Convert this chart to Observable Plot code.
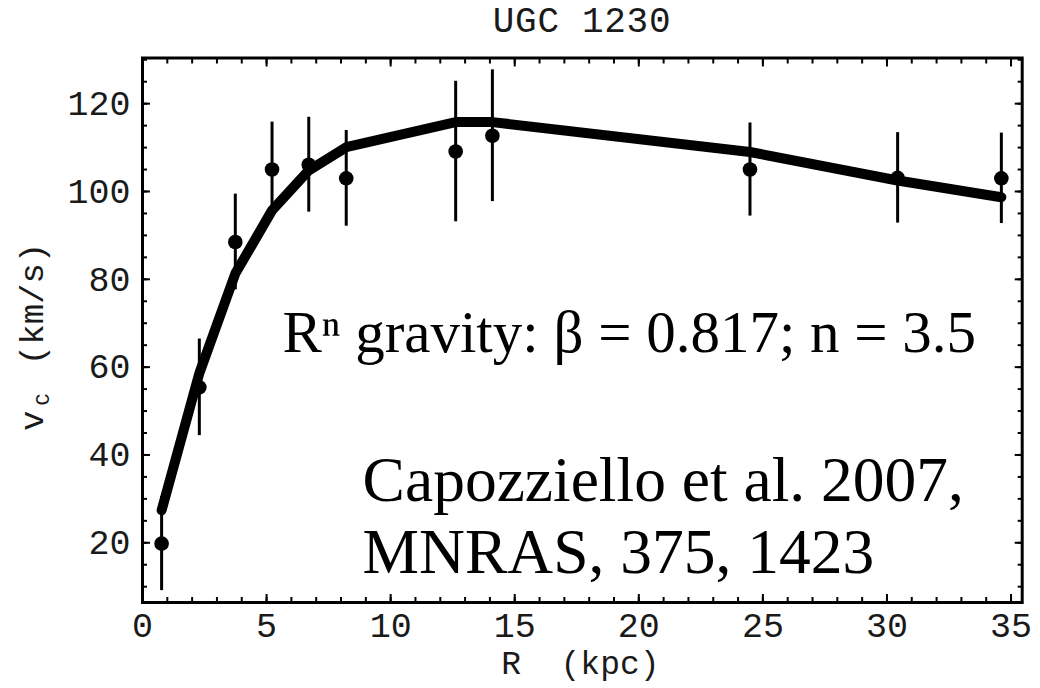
<!DOCTYPE html>
<html><head><meta charset="utf-8">
<script src="https://cdn.jsdelivr.net/npm/d3@7"></script>
<script src="https://cdn.jsdelivr.net/npm/@observablehq/plot@0.6"></script>
<style>
body{margin:0;background:#fff;}
#title{width:1040px;height:46px;line-height:46px;box-sizing:border-box;padding-left:142px;padding-right:18px;text-align:center;font-family:"Liberation Mono",monospace;font-size:36px;letter-spacing:0.7px;color:#1a1a1a;white-space:pre;}
#chart svg{display:block;}
</style></head><body>
<div id="title">UGC 1230</div>
<div id="chart"></div>
<script>
// ---- data ----
const radius = [0.77, 2.29, 3.74, 5.22, 6.70, 8.21, 12.62, 14.10, 24.48, 30.43, 34.61];
const vObs   = [19.8, 55.4, 88.5, 105.0, 106.1, 103.0, 109.1, 112.7, 105.0, 103.1, 103.0];
const vErr   = [10.7, 11.0, 10.9, 10.8, 10.8, 10.9, 16.0, 15.0, 10.6, 10.3, 10.3];
const vModel = [27.4, 58.6, 81.3, 95.7, 104.8, 110.1, 115.8, 115.8, 109.0, 102.5, 98.7];
const xTicks = [0, 5, 10, 15, 20, 25, 30, 35];
const yTicks = [20, 40, 60, 80, 100, 120];
const xMinorTicks = d3.range(0, 36, 1);
const yMinorTicks = d3.range(10, 131, 5);
const titleText = "UGC 1230";
const xLabel = "R\u00a0\u00a0(kpc)";
const annoText1 = ["Rⁿ gravity: β = 0.817; n = 3.5"];
const annoText2 = ["Capozziello et al. 2007,\nMNRAS, 375, 1423"];

const obs = radius.map((r, i) => ({r, v: vObs[i], lo: vObs[i] - vErr[i], hi: vObs[i] + vErr[i]}));
const model = radius.map((r, i) => ({r, v: vModel[i]}));

const mono = "'Liberation Mono', 'DejaVu Sans Mono', monospace";
const serif = "'Liberation Serif', 'DejaVu Serif', serif";
const tickOpts = {stroke: "black", strokeWidth: 2, tickFormat: () => "", label: null};

const chart = Plot.plot({
  width: 1040,
  height: 642,
  marginLeft: 142,
  marginRight: 18.3,
  marginTop: 11.5,
  marginBottom: 86,
  style: {fontFamily: mono, fontSize: "35px", color: "#1a1a1a", background: "white"},
  x: {domain: [0, 35.45]},
  y: {domain: [6.4, 130.4]},
  marks: [
    // tick labels
    Plot.axisX({ticks: xTicks, anchor: "bottom", tickSize: 0, tickPadding: 10, label: null, fill: "#1a1a1a"}),
    Plot.axisY({ticks: yTicks, anchor: "left", tickSize: 0, tickPadding: 12, label: null, fill: "#1a1a1a"}),
    // inward ticks on all sides
    Plot.axisX({...tickOpts, ticks: xTicks, anchor: "bottom", tickSize: -8}),
    Plot.axisX({...tickOpts, ticks: xMinorTicks, anchor: "bottom", tickSize: -5}),
    Plot.axisX({...tickOpts, ticks: xTicks, anchor: "top", tickSize: -8}),
    Plot.axisX({...tickOpts, ticks: xMinorTicks, anchor: "top", tickSize: -5}),
    Plot.axisY({...tickOpts, ticks: yTicks, anchor: "left", tickSize: -8}),
    Plot.axisY({...tickOpts, ticks: yMinorTicks, anchor: "left", tickSize: -5}),
    Plot.axisY({...tickOpts, ticks: yTicks, anchor: "right", tickSize: -8}),
    Plot.axisY({...tickOpts, ticks: yMinorTicks, anchor: "right", tickSize: -5}),
    // error bars and observed points
    Plot.ruleX(obs, {x: "r", y1: "lo", y2: "hi", stroke: "black", strokeWidth: 3}),
    Plot.dot(obs, {x: "r", y: "v", r: 7.3, fill: "black", stroke: "none"}),
    // model curve
    Plot.line(model, {x: "r", y: "v", stroke: "black", strokeWidth: 10, strokeLinecap: "round", strokeLinejoin: "miter"}),
    // annotations
    Plot.text(annoText1, {x: () => 5.64, y: () => 67.65, text: d => d, textAnchor: "start", lineAnchor: "middle", fontFamily: serif, fontSize: 59, fill: "black"}),
    Plot.text(annoText2, {x: () => 8.87, y: () => 26.67, text: d => d, textAnchor: "start", lineAnchor: "middle", lineHeight: 1.134, fontFamily: serif, fontSize: 63.5, fill: "black"}),
    // x axis label
    Plot.text([xLabel], {frameAnchor: "bottom", text: d => d, lineAnchor: "top", dy: 48, dx: -2, fontSize: 33, fill: "#1a1a1a"}),
    Plot.frame({stroke: "black", strokeWidth: 3})
  ]
});
document.getElementById("chart").appendChild(chart);

// y-axis label with subscript
const svg = d3.select(chart);
const yl = svg.append("text")
  .attr("transform", "translate(43,385) rotate(-90)")
  .attr("text-anchor", "start")
  .attr("font-family", mono)
  .attr("font-size", 34)
  .attr("fill", "#1a1a1a");
yl.append("tspan").text("v");
yl.append("tspan").attr("font-size", 20).attr("dx", 5).attr("dy", 6).text("C");
yl.append("tspan").attr("dy", -6).attr("dx", 8).text("\u00a0(km/s)");
</script>
</body></html>
